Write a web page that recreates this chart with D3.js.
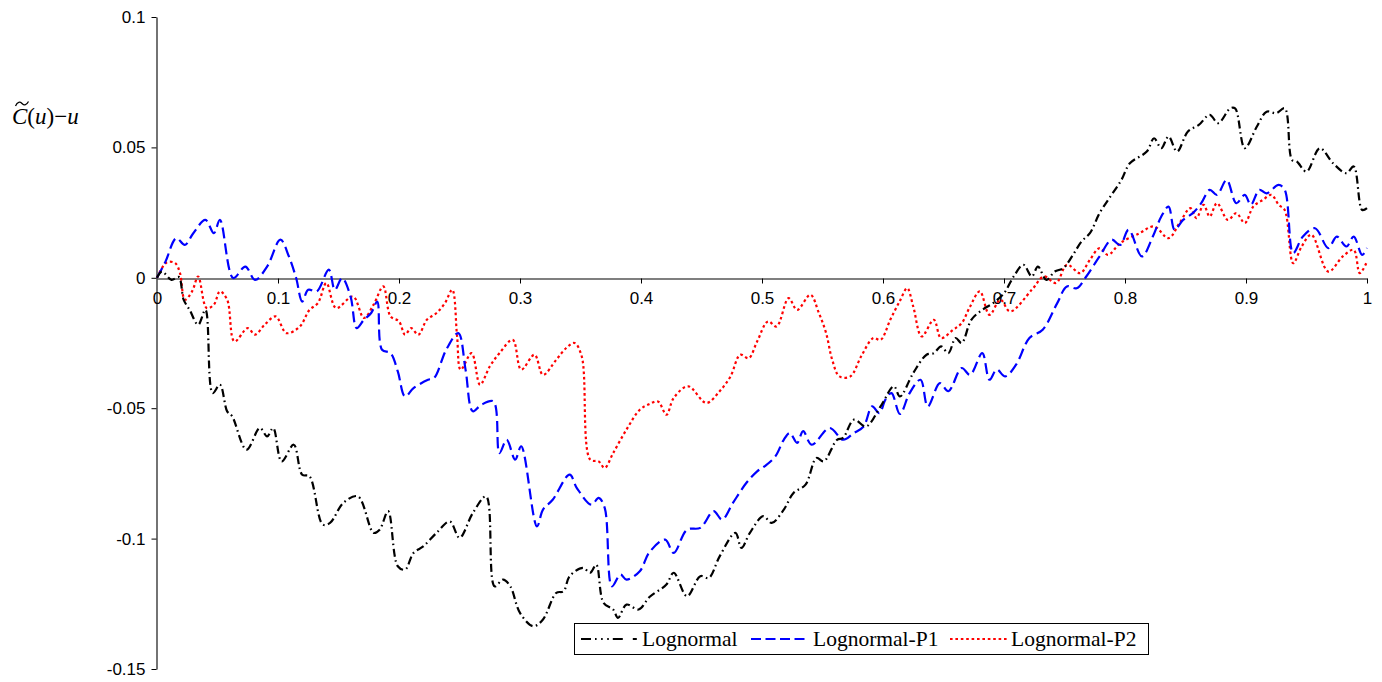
<!DOCTYPE html>
<html>
<head>
<meta charset="utf-8">
<script src="https://cdn.jsdelivr.net/npm/d3@7/dist/d3.min.js"></script>
<style>
  html, body { margin: 0; padding: 0; background: #fff; }
  svg { display: block; }
</style>
</head>
<body>
<svg id="chart" width="1382" height="682"></svg>
<script>
// Deviation of the empirical copula diagonal from u, for three fitted models
const seriesNames = ["Lognormal", "Lognormal-P1", "Lognormal-P2"];
const xTicks = [0, 0.1, 0.2, 0.3, 0.4, 0.5, 0.6, 0.7, 0.8, 0.9, 1];
const yTicks = [-0.15, -0.1, -0.05, 0, 0.05, 0.1];
const xTickLabels = ["0", "0.1", "0.2", "0.3", "0.4", "0.5", "0.6", "0.7", "0.8", "0.9", "1"];
const yTickLabels = ["-0.15", "-0.1", "-0.05", "0", "0.05", "0.1"];

const uLognormal = [0, 0.004, 0.012, 0.018, 0.022, 0.027, 0.034, 0.040, 0.046, 0.052, 0.058, 0.062, 0.074, 0.085, 0.091, 0.096, 0.103, 0.113, 0.120, 0.126, 0.137, 0.143, 0.154, 0.166, 0.179, 0.184, 0.191, 0.199, 0.205, 0.212, 0.220, 0.231, 0.242, 0.250, 0.261, 0.272, 0.279, 0.286, 0.292, 0.300, 0.311, 0.319, 0.330, 0.336, 0.341, 0.352, 0.358, 0.363, 0.369, 0.377, 0.381, 0.388, 0.398, 0.407, 0.421, 0.427, 0.438, 0.449, 0.456, 0.465, 0.478, 0.483, 0.490, 0.501, 0.508, 0.518, 0.526, 0.536, 0.545, 0.551, 0.562, 0.567, 0.576, 0.586, 0.598, 0.609, 0.614, 0.625, 0.636, 0.642, 0.648, 0.654, 0.660, 0.665, 0.673, 0.682, 0.691, 0.700, 0.708, 0.716, 0.723, 0.728, 0.735, 0.742, 0.749, 0.757, 0.764, 0.771, 0.779, 0.788, 0.797, 0.804, 0.818, 0.824, 0.830, 0.836, 0.843, 0.852, 0.861, 0.870, 0.877, 0.887, 0.891, 0.899, 0.909, 0.917, 0.925, 0.932, 0.938, 0.942, 0.950, 0.961, 0.972, 0.983, 0.989, 0.996, 1.0];
const vLognormal = [0, 0.0024, -0.0008, 0.0003, -0.0084, -0.0123, -0.018, -0.0123, -0.0442, -0.041, -0.0512, -0.053, -0.0659, -0.0576, -0.0608, -0.0576, -0.0704, -0.064, -0.0755, -0.0761, -0.0946, -0.094, -0.0863, -0.0838, -0.0978, -0.0966, -0.0895, -0.1106, -0.1119, -0.1055, -0.103, -0.0978, -0.0934, -0.0997, -0.0902, -0.0838, -0.1183, -0.1157, -0.1183, -0.1285, -0.1336, -0.131, -0.1208, -0.1202, -0.1144, -0.1112, -0.1131, -0.110, -0.1246, -0.1272, -0.1304, -0.1253, -0.1272, -0.1224, -0.1176, -0.1131, -0.1221, -0.1144, -0.1151, -0.1068, -0.0978, -0.1036, -0.0978, -0.0914, -0.094, -0.0889, -0.0825, -0.0793, -0.0691, -0.0704, -0.0621, -0.0614, -0.0544, -0.057, -0.0493, -0.0416, -0.0455, -0.0365, -0.0295, -0.0289, -0.0263, -0.0289, -0.0231, -0.025, -0.0161, -0.0123, -0.0097, -0.0059, 0.0005, 0.005, 0.0005, 0.0043, -0.0008, 0.0024, 0.0037, 0.0088, 0.0139, 0.0171, 0.0248, 0.0312, 0.0375, 0.0439, 0.0484, 0.0535, 0.0497, 0.0542, 0.0484, 0.0561, 0.0586, 0.0625, 0.0593, 0.065, 0.065, 0.0497, 0.058, 0.0637, 0.0631, 0.065, 0.0452, 0.0446, 0.0407, 0.0497, 0.0439, 0.0401, 0.0427, 0.026, 0.0267];

const uLognormalP1 = [0, 0.007, 0.016, 0.023, 0.030, 0.040, 0.047, 0.052, 0.063, 0.073, 0.081, 0.091, 0.102, 0.109, 0.115, 0.120, 0.125, 0.132, 0.142, 0.147, 0.153, 0.160, 0.165, 0.171, 0.177, 0.182, 0.186, 0.193, 0.199, 0.205, 0.212, 0.224, 0.229, 0.239, 0.249, 0.255, 0.261, 0.268, 0.278, 0.283, 0.289, 0.296, 0.301, 0.314, 0.319, 0.327, 0.341, 0.347, 0.359, 0.365, 0.370, 0.376, 0.383, 0.388, 0.399, 0.407, 0.420, 0.427, 0.438, 0.449, 0.460, 0.467, 0.476, 0.487, 0.496, 0.502, 0.511, 0.518, 0.523, 0.529, 0.534, 0.541, 0.556, 0.567, 0.576, 0.584, 0.591, 0.597, 0.602, 0.607, 0.614, 0.622, 0.631, 0.637, 0.647, 0.654, 0.665, 0.672, 0.682, 0.688, 0.694, 0.701, 0.710, 0.721, 0.732, 0.744, 0.752, 0.760, 0.768, 0.779, 0.789, 0.796, 0.803, 0.814, 0.823, 0.830, 0.836, 0.841, 0.848, 0.856, 0.863, 0.870, 0.876, 0.884, 0.892, 0.899, 0.904, 0.911, 0.917, 0.927, 0.932, 0.939, 0.947, 0.957, 0.968, 0.975, 0.983, 0.989, 0.996, 1.0];
const vLognormalP1 = [0, 0.0062, 0.0152, 0.0126, 0.0171, 0.0222, 0.0171, 0.0222, -0.0001, 0.0043, -0.0008, 0.0043, 0.0146, 0.0082, -0.0001, -0.0091, -0.0046, -0.0052, 0.0031, -0.0046, -0.0001, -0.0072, -0.0193, -0.0161, -0.0135, -0.0091, -0.0276, -0.0289, -0.0359, -0.0455, -0.0423, -0.0391, -0.0384, -0.0276, -0.0212, -0.0352, -0.0512, -0.0487, -0.0474, -0.0672, -0.0621, -0.0697, -0.0646, -0.0953, -0.0889, -0.0851, -0.0755, -0.0806, -0.087, -0.0844, -0.0882, -0.1183, -0.1138, -0.1157, -0.1125, -0.1052, -0.1004, -0.1055, -0.0966, -0.0959, -0.0895, -0.0927, -0.0863, -0.0787, -0.0742, -0.0723, -0.0685, -0.0621, -0.0595, -0.0633, -0.0588, -0.064, -0.0576, -0.0621, -0.0595, -0.057, -0.0493, -0.0519, -0.0467, -0.0442, -0.0522, -0.0442, -0.0391, -0.0493, -0.0404, -0.0435, -0.0346, -0.0372, -0.0289, -0.0391, -0.0352, -0.0378, -0.0333, -0.0231, -0.0199, -0.0097, -0.0033, -0.004, 0.0005, 0.0082, 0.0146, 0.0126, 0.0184, 0.0082, 0.0158, 0.0235, 0.0273, 0.0184, 0.0222, 0.0248, 0.0286, 0.0337, 0.0318, 0.0375, 0.0286, 0.0318, 0.028, 0.0337, 0.0324, 0.0356, 0.0337, 0.0095, 0.0158, 0.019, 0.0114, 0.0158, 0.012, 0.0158, 0.0088, 0.0114];

const uLognormalP2 = [0, 0.008, 0.015, 0.019, 0.023, 0.029, 0.034, 0.041, 0.047, 0.052, 0.058, 0.064, 0.075, 0.081, 0.089, 0.098, 0.107, 0.118, 0.126, 0.133, 0.140, 0.148, 0.162, 0.171, 0.179, 0.187, 0.193, 0.200, 0.205, 0.210, 0.216, 0.223, 0.231, 0.238, 0.244, 0.248, 0.251, 0.260, 0.267, 0.275, 0.283, 0.294, 0.301, 0.312, 0.319, 0.330, 0.338, 0.345, 0.351, 0.358, 0.365, 0.370, 0.377, 0.388, 0.399, 0.407, 0.414, 0.421, 0.427, 0.439, 0.454, 0.465, 0.474, 0.482, 0.489, 0.496, 0.505, 0.512, 0.522, 0.529, 0.540, 0.547, 0.553, 0.558, 0.564, 0.573, 0.582, 0.592, 0.598, 0.606, 0.614, 0.620, 0.625, 0.632, 0.642, 0.648, 0.658, 0.665, 0.672, 0.680, 0.688, 0.697, 0.705, 0.723, 0.733, 0.743, 0.752, 0.763, 0.771, 0.779, 0.786, 0.796, 0.812, 0.824, 0.836, 0.845, 0.854, 0.859, 0.865, 0.870, 0.876, 0.885, 0.892, 0.899, 0.906, 0.914, 0.921, 0.927, 0.932, 0.939, 0.946, 0.954, 0.968, 0.980, 0.989, 0.994, 1.0];
const vLognormalP2 = [0, 0.0059, 0.0056, 0.0018, -0.0084, -0.0052, 0.0005, -0.0116, -0.0103, -0.0052, -0.0084, -0.0244, -0.0193, -0.0218, -0.018, -0.0148, -0.0212, -0.0187, -0.0123, -0.0097, -0.002, -0.0116, -0.0072, -0.0154, -0.0103, -0.0033, -0.0148, -0.0167, -0.0218, -0.0193, -0.0218, -0.0161, -0.0135, -0.0097, -0.0046, -0.0225, -0.0352, -0.0289, -0.041, -0.034, -0.0289, -0.0238, -0.0352, -0.0295, -0.0372, -0.0314, -0.027, -0.025, -0.0301, -0.0697, -0.0704, -0.0729, -0.0672, -0.0582, -0.0506, -0.0484, -0.0474, -0.0525, -0.0461, -0.0416, -0.048, -0.0435, -0.0378, -0.0295, -0.0308, -0.0244, -0.0167, -0.0187, -0.0078, -0.0123, -0.0065, -0.0135, -0.0212, -0.0314, -0.0378, -0.0378, -0.0301, -0.0231, -0.0238, -0.0161, -0.0088, -0.004, -0.011, -0.0225, -0.0161, -0.0231, -0.0199, -0.0174, -0.011, -0.0052, -0.0142, -0.0084, -0.0129, -0.0046, 0.0005, -0.002, 0.005, 0.0018, 0.0069, 0.0114, 0.0088, 0.0133, 0.0171, 0.0197, 0.0152, 0.021, 0.0267, 0.0229, 0.028, 0.0235, 0.0286, 0.0222, 0.0248, 0.021, 0.0273, 0.0299, 0.0318, 0.028, 0.026, 0.0056, 0.012, 0.0165, 0.0024, 0.0082, 0.0107, 0.0018, 0.0062];

const svg = d3.select("#chart");
const margin = { left: 157, right: 15, top: 17, bottom: 13 };
const W = 1382, H = 682;

const x = d3.scaleLinear().domain([0, 1]).range([margin.left, W - margin.right]);
const y = d3.scaleLinear().domain([-0.15, 0.1]).range([H - margin.bottom, margin.top]);

svg.append("rect").attr("width", W).attr("height", H).attr("fill", "#fff");

// Y axis along the left edge of the plot
const yAxis = d3.axisLeft(y).tickValues(yTicks)
  .tickFormat((d, i) => yTickLabels[i]).tickSize(5).tickSizeOuter(0);
const gy = svg.append("g").attr("transform", `translate(${x(0) - 0.5},0)`).call(yAxis);
gy.selectAll("text").attr("font-family", "Liberation Sans, Arial, sans-serif")
  .attr("font-size", 17).attr("fill", "#000").attr("x", -11);

// X axis crossing at zero
const xAxis = d3.axisBottom(x).tickValues(xTicks)
  .tickFormat((d, i) => xTickLabels[i]).tickSize(5).tickSizeOuter(0);
const gx = svg.append("g").attr("transform", `translate(0,${Math.round(y(0)) + 0.5})`).call(xAxis);
gx.selectAll("text").attr("font-family", "Liberation Sans, Arial, sans-serif")
  .attr("font-size", 17).attr("fill", "#000").attr("y", 13);
gx.selectAll(".tick").filter(d => d === 0).select("line").remove();

[gx, gy].forEach(g => {
  g.select(".domain").attr("stroke", "#000").attr("stroke-width", 1.1);
  g.selectAll(".tick line").attr("stroke", "#000").attr("stroke-width", 1);
});

// Series
const seriesData = [
  { name: seriesNames[0], u: uLognormal, v: vLognormal, color: "#000000", dash: "8,3.5,1.6,3.5" },
  { name: seriesNames[1], u: uLognormalP1, v: vLognormalP1, color: "#0000ff", dash: "11,5" },
  { name: seriesNames[2], u: uLognormalP2, v: vLognormalP2, color: "#ff0000", dash: "2.6,2.8" }
];

const line = d3.line().x(d => x(d[0])).y(d => y(d[1])).curve(d3.curveCatmullRom.alpha(0.5));

seriesData.slice().reverse().forEach(s => {
  svg.append("path")
    .datum(s.u.map((u, i) => [u, s.v[i]]))
    .attr("fill", "none")
    .attr("stroke", s.color)
    .attr("stroke-width", 2.2)
    .attr("stroke-dasharray", s.dash)
    .attr("d", line);
});

// Y axis title: C-tilde(u) - u
const titleFont = "Liberation Serif, Times New Roman, serif";
const title = svg.append("text")
  .attr("x", 12).attr("y", 124)
  .attr("font-family", titleFont)
  .attr("font-size", 23).attr("fill", "#000");
title.append("tspan").attr("font-style", "italic").text("C");
title.append("tspan").text("(");
title.append("tspan").attr("font-style", "italic").text("u");
title.append("tspan").text(")\u2212");
title.append("tspan").attr("font-style", "italic").text("u");
// wide tilde accent over the C
svg.append("path")
  .attr("d", "M15.5,106 C17.5,101.5 20,101.5 22,103.5 S26,106 28.5,101.5")
  .attr("fill", "none").attr("stroke", "#000").attr("stroke-width", 1.3);

// Legend
const legend = svg.append("g");
legend.append("rect")
  .attr("x", 574.5).attr("y", 623.5).attr("width", 574).attr("height", 31)
  .attr("fill", "#fff").attr("stroke", "#000").attr("stroke-width", 1);

const legendItems = [
  { s: seriesData[0], x0: 581, x1: 637, tx: 642, dash: "10,4,1.6,4.5,1.6,4.5,1.6,4,10" },
  { s: seriesData[1], x0: 751, x1: 807, tx: 813, dash: "10,4.5" },
  { s: seriesData[2], x0: 950, x1: 1008, tx: 1011, dash: "2.6,2.8" }
];
legendItems.forEach(it => {
  legend.append("line")
    .attr("x1", it.x0).attr("x2", it.x1).attr("y1", 639).attr("y2", 639)
    .attr("stroke", it.s.color).attr("stroke-width", 2)
    .attr("stroke-dasharray", it.dash);
  legend.append("text")
    .attr("x", it.tx).attr("y", 646)
    .attr("font-family", "Liberation Serif, Times New Roman, serif")
    .attr("font-size", 21.5).attr("fill", "#000")
    .text(it.s.name);
});
</script>
</body>
</html>
